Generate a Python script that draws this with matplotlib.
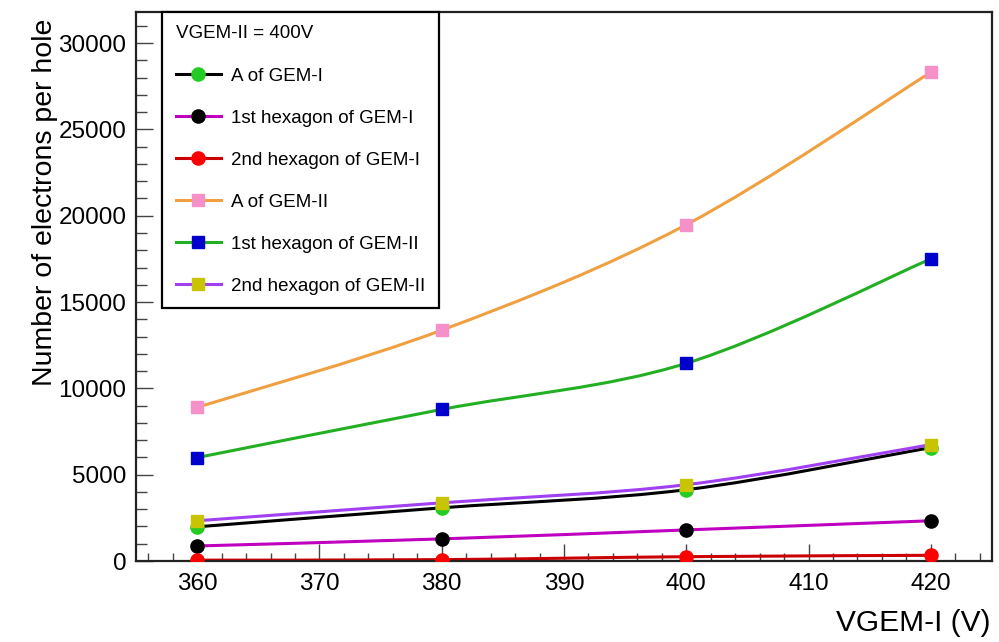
import numpy as np
import matplotlib
matplotlib.use('Agg')
from matplotlib import pyplot as plt
from matplotlib.path import Path
from matplotlib.patches import PathPatch
from matplotlib.lines import Line2D
from matplotlib.ticker import MultipleLocator

plt.rcParams['font.family'] = ['Liberation Sans', 'DejaVu Sans']

# data
vgem1 = [360, 380, 400, 420]
a_gem1 = [1980, 3080, 4130, 6570]
hex1_gem1 = [870, 1280, 1800, 2330]
hex2_gem1 = [50, 80, 250, 330]
a_gem2 = [8900, 13370, 19480, 28310]
hex1_gem2 = [5990, 8780, 11450, 17500]
hex2_gem2 = [2330, 3370, 4420, 6740]

labels = ['A of GEM-I', '1st hexagon of GEM-I', '2nd hexagon of GEM-I',
          'A of GEM-II', '1st hexagon of GEM-II', '2nd hexagon of GEM-II']
series = [a_gem1, hex1_gem1, hex2_gem1, a_gem2, hex1_gem2, hex2_gem2]
line_colors = ['#000000', '#c000c0', '#cc0000', '#f0a040', '#22b022', '#a040f0']
marker_colors = ['#22cc22', '#000000', '#ff0000', '#f590c8', '#0000cc', '#c8c400']
markers = ['o', 'o', 'o', 's', 's', 's']
msizes = [9.5, 9.5, 9.5, 9.0, 9.0, 9.0]


def smooth_path(x, y):
    # catmull-rom through the points, as bezier segments (like ROOT "C")
    p = np.column_stack([x, y]).astype(float)
    q = np.vstack([p[0], p, p[-1]])
    verts = [p[0]]
    codes = [Path.MOVETO]
    for i in range(len(p) - 1):
        c1 = q[i + 1] + (q[i + 2] - q[i]) / 6.0
        c2 = q[i + 2] - (q[i + 3] - q[i + 1]) / 6.0
        verts += [c1, c2, q[i + 2]]
        codes += [Path.CURVE4] * 3
    return Path(verts, codes)


fig = plt.figure(figsize=(9.99, 6.42), dpi=100)
ax = fig.add_axes([136/999, 1-561/642, (992-136)/999, (561-12)/642])

for k in range(len(series)):
    patch = PathPatch(smooth_path(vgem1, series[k]), facecolor='none',
                      edgecolor=line_colors[k], lw=2.2, zorder=2+k*0.1)
    ax.add_patch(patch)
for k in range(len(series)):
    ax.plot(vgem1, series[k], ls='none', marker=markers[k], ms=msizes[k],
            mfc=marker_colors[k], mec=marker_colors[k], zorder=4+k*0.1)

ax.set_xlim(355, 425)
ax.set_ylim(0, 31800)
ax.xaxis.set_major_locator(MultipleLocator(10))
ax.xaxis.set_minor_locator(MultipleLocator(2))
ax.yaxis.set_major_locator(MultipleLocator(5000))
ax.yaxis.set_minor_locator(MultipleLocator(1000))
ax.tick_params(which='both', direction='in', top=False, right=False, width=1.0, color='#444444')
ax.tick_params(which='major', axis='x', length=12, pad=9, labelsize=17.5)
ax.tick_params(which='minor', axis='x', length=6)
ax.tick_params(which='major', axis='y', length=12, pad=7, labelsize=17.5)
ax.tick_params(which='minor', axis='y', length=8)
for s in ax.spines.values():
    s.set_linewidth(1.6)
    s.set_color('#222222')

fig.text(990/999, 1-637/642, 'VGEM-I (V)', ha='right', va='bottom', fontsize=21.5)
fig.text(45/999, 1-19/642, 'Number of electrons per hole', rotation=90,
         ha='center', va='top', fontsize=20.5)

handles = []
for k in range(len(series)):
    handles.append(Line2D([], [], color=line_colors[k], lw=2.2, marker=markers[k],
                          ms=msizes[k], mfc=marker_colors[k], mec=marker_colors[k]))
leg = ax.legend(handles, labels, title='VGEM-II = 400V', loc='upper left',
                bbox_to_anchor=((162-136)/856, 1.0), fontsize=13.5, title_fontsize=13.5,
                alignment='left', numpoints=1, handlelength=2.45, handletextpad=0.5,
                borderpad=0.72, labelspacing=1.33, borderaxespad=0.0,
                fancybox=False, framealpha=1.0, edgecolor='black')
leg.get_frame().set_linewidth(1.6)
leg.set_zorder(10)

fig.savefig('out.png', dpi=100)
